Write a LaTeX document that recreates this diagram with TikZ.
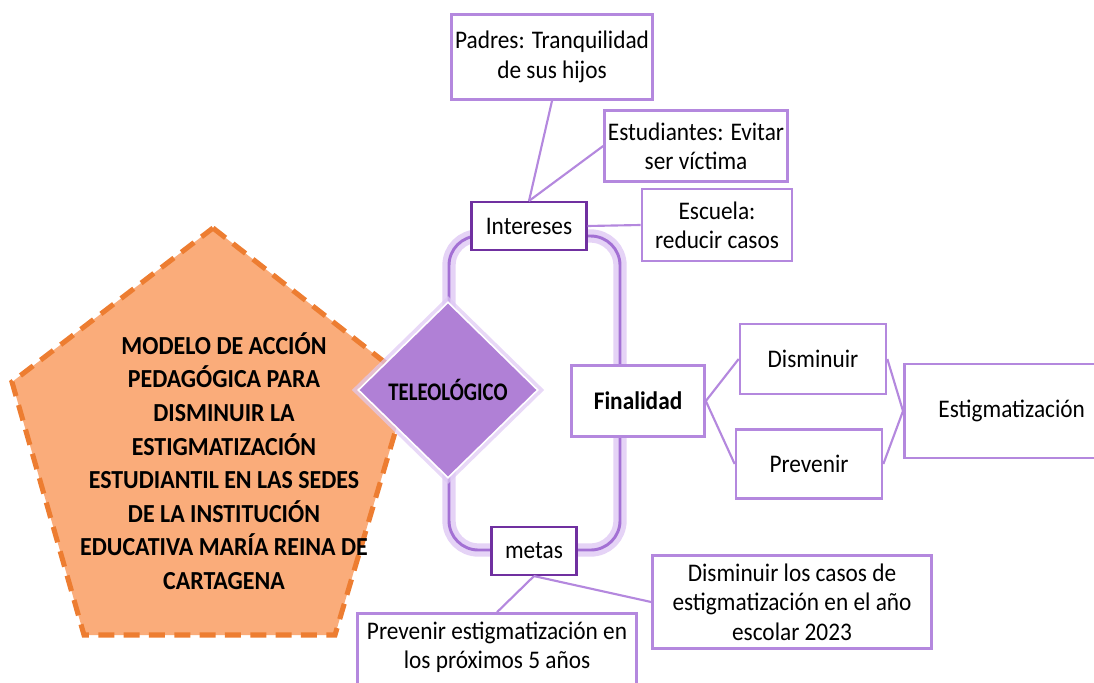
\documentclass[tikz,border=0pt]{standalone}
\usepackage{fontspec}
\setmainfont{Carlito}
\newfontfamily\cajafont{Carlito}[FakeStretch=0.92]
\newfontfamily\rombofont{Carlito}[FakeStretch=0.82]
\usetikzlibrary{shapes.geometric}
\definecolor{lila}{RGB}{180,136,222}
\definecolor{morado}{RGB}{112,48,160}
\definecolor{marcolila}{RGB}{163,112,212}
\definecolor{brillo}{RGB}{222,200,244}
\definecolor{rombo}{RGB}{176,128,214}
\definecolor{naranja}{RGB}{250,172,122}
\definecolor{borde}{RGB}{237,125,49}
\tikzset{
  caja/.style n args={2}{draw=lila, line width=2pt, fill=white, align=center,
    inner sep=2pt, minimum width=#1*0.75pt, minimum height=#2*0.75pt,
    font=\cajafont\fontsize{19}{22}\selectfont},
  cajaosc/.style={draw=morado, line width=1.6pt},
  enlace/.style={draw=lila, line width=1.6pt},
}
\begin{document}
\begin{tikzpicture}[x=0.75pt,y=-0.75pt]
\useasboundingbox (0,0) rectangle (1094,682);
% pentagono
\coordinate (p1) at (213,228);
\coordinate (p2) at (410,382);
\coordinate (p3) at (335,635);
\coordinate (p4) at (84,635);
\coordinate (p5) at (12,382);
\draw[fill=naranja, draw=borde, line width=3.8pt, dash pattern=on 12pt off 7pt]
  (p1) -- (p2) -- (p3) -- (p4) -- (p5) -- cycle;
\node[align=center, font=\cajafont\fontsize{19.5}{25.2}\bfseries] (modelo) at (224,461)
  {MODELO DE ACCIÓN\\PEDAGÓGICA PARA\\DISMINUIR LA\\ESTIGMATIZACIÓN\\ESTUDIANTIL EN LAS SEDES\\DE LA INSTITUCIÓN\\EDUCATIVA MARÍA REINA DE\\CARTAGENA};
% marco redondeado
\draw[brillo, line width=10pt, rounded corners=22pt, opacity=.8] (449,236) rectangle (620,550);
\draw[marcolila, line width=2.2pt, rounded corners=22pt] (449,236) rectangle (620,550);
% rombo
\node[diamond, draw=brillo, line width=9pt, opacity=.7, minimum width=135pt, minimum height=132pt] at (448,390) {};
\node[diamond, fill=rombo, draw=white, line width=1.2pt, inner sep=0pt,
  minimum width=135pt, minimum height=132pt, font=\rombofont\fontsize{19}{22}\bfseries] (teleo) at (448,390) {TELEOLÓGICO};
% cajas
\node[caja={201}{85}] (padres) at (552,57) {Padres: Tranquilidad\\de sus hijos};
\node[caja={183}{71}] (estud) at (696,146) {Estudiantes: Evitar\\ser víctima};
\node[caja={115}{48}, cajaosc] (intereses) at (529,226) {Intereses};
\node[caja={150}{72}] (escuela) at (717,225) {Escuela:\\reducir casos};
\node[caja={133}{71}, font=\cajafont\fontsize{19}{22}\bfseries] (finalidad) at (638,401) {Finalidad};
\node[caja={146}{70}] (disminuir) at (813,359) {Disminuir};
\node[caja={146}{69}] (prevenir) at (809,464) {Prevenir};
\node[caja={186}{94}, text width=165pt] (estig) at (1017,411) {\hspace*{-8pt}Estigmatización};
\node[caja={85}{48}, cajaosc] (metas) at (534,551) {metas};
\node[caja={279}{93}] (casos) at (792,602) {Disminuir los casos de\\estigmatización en el año\\escolar 2023};
\node[caja={279}{93}] (prevest) at (497,660) {Prevenir estigmatización en\\los próximos 5 años\\ };
% conectores
\draw[enlace] (padres.south) -- (intereses.north);
\draw[enlace] (estud.west) -- (intereses.north);
\draw[enlace] (escuela.west) -- (intereses.east);
\foreach \dest in {disminuir, prevenir}{
  \draw[enlace] (finalidad.east) -- (\dest.west);
  \draw[enlace] (\dest.east) -- (estig.west);
}
\draw[enlace] (metas.south) -- (prevest.north);
\draw[enlace] (metas.south) -- (casos.west);
\end{tikzpicture}
\end{document}
